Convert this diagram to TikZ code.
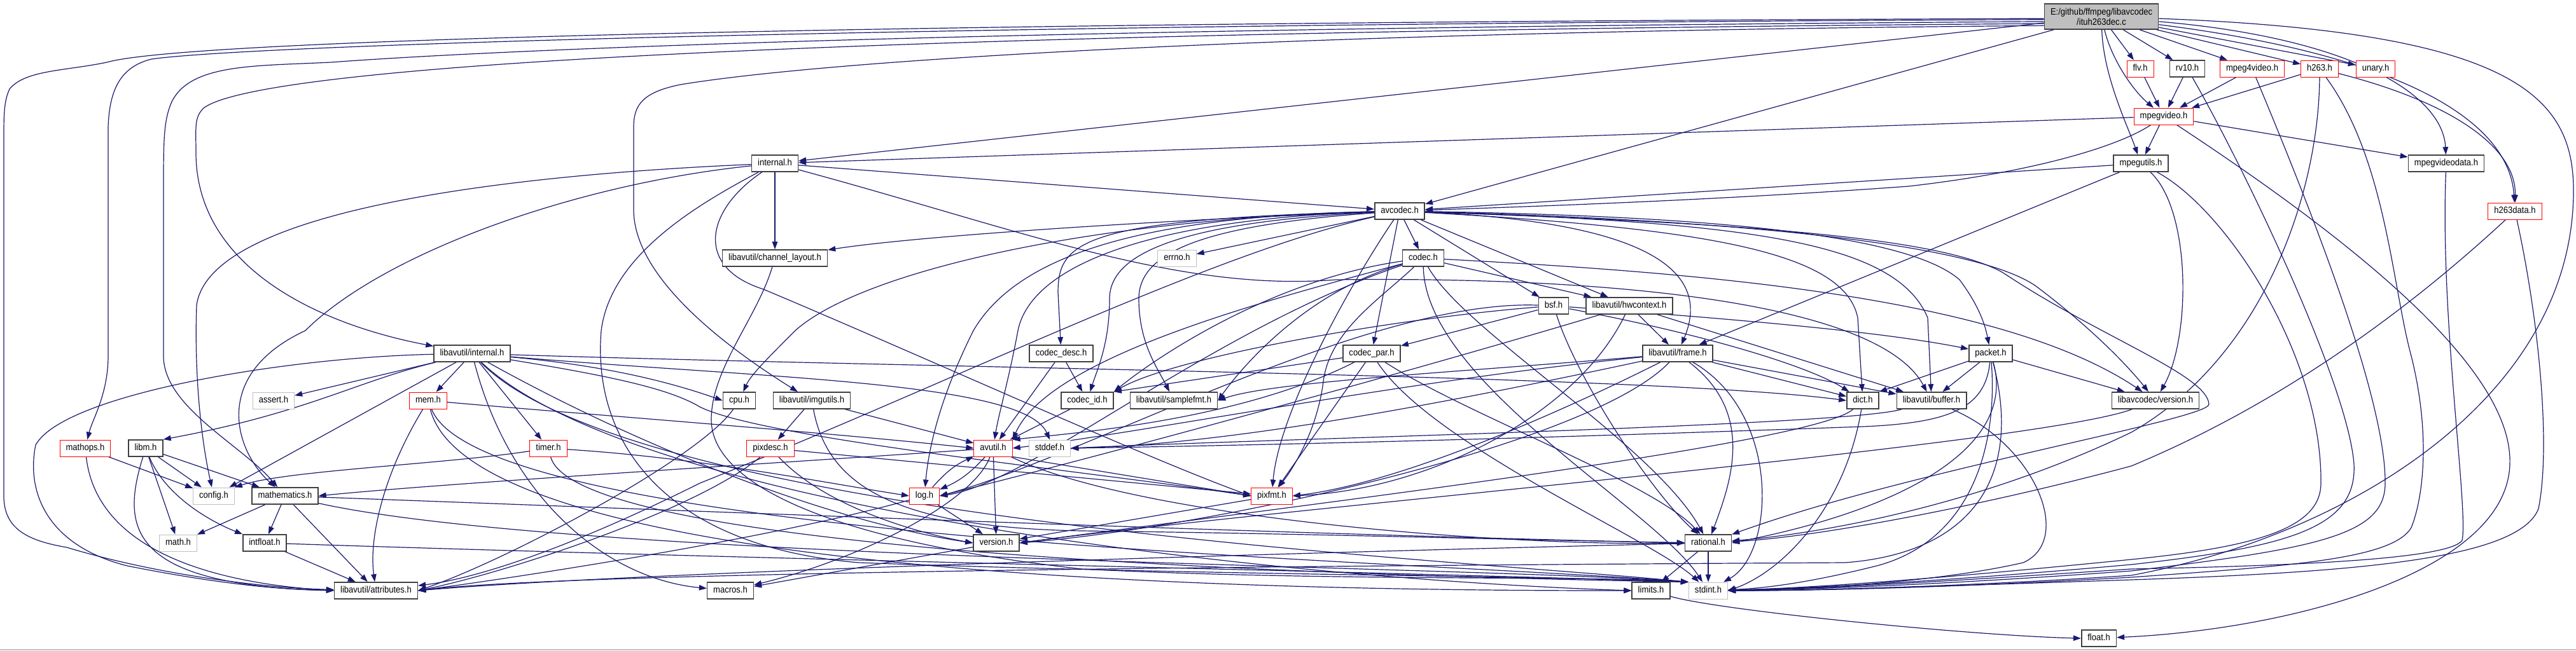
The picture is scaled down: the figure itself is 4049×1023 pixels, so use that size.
\documentclass[tikz,border=0pt]{standalone}
\usepackage{fontspec}
\setmainfont{Liberation Sans}
\newfontfamily\nodefont[FakeStretch=0.9]{Liberation Sans}
\usetikzlibrary{arrows.meta}
\definecolor{edgec}{RGB}{25,25,112}
\definecolor{bord}{RGB}{64,64,64}
\definecolor{lgray}{RGB}{191,191,191}
\pgfdeclarelayer{back}
\pgfdeclarelayer{edges}
\pgfsetlayers{back,edges,main}
\tikzset{
  base/.style={rectangle, font=\nodefont\fontsize{14.5}{16}\selectfont, inner xsep=9.5pt, inner ysep=0pt,
    minimum height=26pt, text height=10.5pt, text depth=3pt, fill=white},
  nb/.style={base, draw=bord, line width=1.6pt},
  nr/.style={base, draw=red, line width=1pt},
  ng/.style={base, draw=lgray, line width=1pt},
  e/.style={draw=edgec, line width=1.2pt, -{Triangle[length=12pt,width=8.5pt]}},
}
\begin{document}
\begin{tikzpicture}[x=1pt,y=-1pt]
\useasboundingbox (0,0) rectangle (4049,1023);
\begin{pgfonlayer}{back}
\fill[white] (0,0) rectangle (4049,1023);
\draw[lgray, line width=1.5pt] (0,1022) -- (4049,1022);
\end{pgfonlayer}

% nodes
\node[nb, fill={rgb,255:red,191;green,191;blue,191}, minimum height=40pt, text height=, text depth=, inner ysep=3pt, align=center] (T) at (3303,26) {E:/github/ffmpeg/libavcodec\\/ituh263dec.c};
\node[nr] (flv) at (3364,108) {flv.h};
\node[nb] (rvten) at (3438,108) {rv10.h};
\node[nr] (mpfv) at (3540,108) {mpeg4video.h};
\node[nr] (hdt) at (3646,108) {h263.h};
\node[nr] (unary) at (3734,108) {unary.h};
\node[nr] (mpv) at (3401,183) {mpegvideo.h};
\node[nb] (lint) at (1218,257) {internal.h};
\node[nb] (mpu) at (3365,257) {mpegutils.h};
\node[nb] (mpvd) at (3845,257) {mpegvideodata.h};
\node[nb] (avc) at (2200,332) {avcodec.h};
\node[nr] (hdd) at (3953,332) {h263data.h};
\node[nb] (chl) at (1218,406) {libavutil/channel\_layout.h};
\node[ng] (errno) at (1850,406) {errno.h};
\node[nb] (codec) at (2237,406) {codec.h};
\node[nb] (bsf) at (2442,481) {bsf.h};
\node[nb] (hwc) at (2561,481) {libavutil/hwcontext.h};
\node[nb] (uint) at (742,556) {libavutil/internal.h};
\node[nb] (cdesc) at (1668,556) {codec\_desc.h};
\node[nb] (cpar) at (2156,556) {codec\_par.h};
\node[nb] (frame) at (2637,556) {libavutil/frame.h};
\node[nb] (packet) at (3129,556) {packet.h};
\node[ng] (assert) at (430,630) {assert.h};
\node[nr] (mem) at (673,630) {mem.h};
\node[nb] (cpu) at (1162,630) {cpu.h};
\node[nb] (imgu) at (1276,630) {libavutil/imgutils.h};
\node[nb] (cid) at (1709,630) {codec\_id.h};
\node[nb] (sfmt) at (1845,630) {libavutil/samplefmt.h};
\node[nb] (dict) at (2928,630) {dict.h};
\node[nb] (buffer) at (3036,630) {libavutil/buffer.h};
\node[nb] (lcver) at (3388,630) {libavcodec/version.h};
\node[nr] (mathops) at (134,705) {mathops.h};
\node[nb] (libm) at (229,705) {libm.h};
\node[nr] (timer) at (862,705) {timer.h};
\node[nr] (pixdesc) at (1211,705) {pixdesc.h};
\node[nr] (avutil) at (1561,705) {avutil.h};
\node[ng] (stddef) at (1650,705) {stddef.h};
\node[ng] (config) at (336,780) {config.h};
\node[nb] (mathem) at (448,780) {mathematics.h};
\node[nr] (log) at (1453,780) {log.h};
\node[nr] (pixfmt) at (1999,780) {pixfmt.h};
\node[ng] (math) at (280,854) {math.h};
\node[nb] (intfloat) at (416,854) {intfloat.h};
\node[nb] (version) at (1566,854) {version.h};
\node[nb] (rational) at (2685,854) {rational.h};
\node[nb] (attr) at (591,929) {libavutil/attributes.h};
\node[nb] (macros) at (1148,929) {macros.h};
\node[nb] (limits) at (2595,929) {limits.h};
\node[ng] (stdint) at (2685,929) {stdint.h};
\node[nb] (float) at (3299,1004) {float.h};

\begin{pgfonlayer}{edges}
% ---- ituh263dec.c
\draw[e] (T) -- (flv);
\draw[e] (T) -- (rvten);
\draw[e] (T) -- (mpfv);
\draw[e] (T) -- (hdt);
\draw[e] (T) -- (unary);
\draw[e] (T) .. controls (3318,90) and (3350,140) .. (mpv);
\draw[e] (T) .. controls (3306,120) and (3345,200) .. (mpu);
\draw[e] (T.355) .. controls (3700,60) and (3840,150) .. (mpvd);
\draw[e] (T.352) .. controls (3800,90) and (3945,200) .. (hdd);
\draw[e] (T.358) .. controls (3950,50) and (4045,150) .. (4045,300) .. controls (4045,620) and (3700,840) .. (3350,905) .. controls (3100,922) and (2850,929) .. (stdint);
\draw[e] (T) -- (avc);
\draw[e] (T) -- (lint);
\draw[e] (T.187) .. controls (1500,50) and (420,95) .. (320,170) .. controls (305,185) and (308,200) .. (308,240) .. controls (308,420) and (500,510) .. (uint);
\draw[e] (T.185) .. controls (1500,45) and (760,80) .. (520,98) .. controls (400,104) and (300,100) .. (270,160) .. controls (257,190) and (257,220) .. (257,300) -- (257,560) .. controls (257,640) and (380,700) .. (mathem);
\draw[e] (T.183) .. controls (1500,38) and (400,70) .. (238,93) .. controls (190,105) and (172,140) .. (170,200) -- (170,560) .. controls (170,620) and (145,660) .. (mathops);
\draw[e] (T.182) .. controls (1500,35) and (300,60) .. (168,98) .. controls (100,112) and (40,110) .. (15,140) .. controls (6,160) and (6,180) .. (6,220) -- (6,780) .. controls (6,830) and (40,850) .. (105,861) .. controls (250,905) and (420,925) .. (attr);
\draw[e] (T.189) .. controls (2000,50) and (1300,95) .. (1070,133) .. controls (1010,145) and (996,165) .. (996,200) -- (996,330) .. controls (996,420) and (1100,520) .. (imgu);
% ---- mpegvideo.h
\draw[e] (mpv) -- (lint);
\draw[e] (mpv) .. controls (3330,230) and (3200,270) .. (3000,293) .. controls (2700,315) and (2400,325) .. (avc);
\draw[e] (mpv) -- (mpu);
\draw[e] (mpv) -- (mpvd);
\draw[e] (mpv) .. controls (3700,380) and (3950,580) .. (3945,730) .. controls (3940,900) and (3600,990) .. (float);
% ---- row 1
\draw[e] (flv) -- (mpv);
\draw[e] (rvten) -- (mpv);
\draw[e] (mpfv) -- (mpv);
\draw[e] (hdt) -- (mpv);
\draw[e] (hdt) .. controls (3850,160) and (3955,230) .. (hdd);
\draw[e] (rvten) .. controls (3520,250) and (3690,600) .. (3700,730) .. controls (3705,830) and (3600,860) .. (3350,888) .. controls (3050,915) and (2850,925) .. (stdint);
\draw[e] (mpfv) .. controls (3620,300) and (3750,620) .. (3749,760) .. controls (3749,840) and (3650,862) .. (3350,898) .. controls (3050,920) and (2850,927) .. (stdint);
\draw[e] (hdt) .. controls (3645,300) and (3560,560) .. (3350,680) .. controls (3100,800) and (2850,840) .. (rational);
\draw[e] (hdt) .. controls (3750,250) and (3760,450) .. (3790,560) .. controls (3820,680) and (3810,780) .. (3790,830) .. controls (3760,880) and (3600,890) .. (3350,908) .. controls (3050,925) and (2850,929) .. (stdint);
\draw[e] (hdd) .. controls (3750,520) and (3550,650) .. (3350,733) .. controls (3100,800) and (2850,845) .. (rational);
\draw[e] (hdd) .. controls (3990,500) and (4010,700) .. (3990,800) .. controls (3960,880) and (3700,900) .. (3350,912) .. controls (3050,922) and (2850,929) .. (stdint);
% ---- mpegutils / mpegvideodata
\draw[e] (mpu) -- (avc);
\draw[e] (mpu) -- (frame);
\draw[e] (mpu) .. controls (3444,330) and (3444,530) .. (lcver);
\draw[e] (mpu) .. controls (3500,330) and (3650,560) .. (3648,760) .. controls (3648,830) and (3550,860) .. (3350,880) .. controls (3050,910) and (2850,925) .. (stdint);
\draw[e] (mpvd) .. controls (3835,500) and (3880,800) .. (3870,850) .. controls (3850,880) and (3600,890) .. (3350,895) .. controls (3050,915) and (2850,927) .. (stdint);
% ---- avcodec.h
\draw[e] (avc) -- (codec);
\draw[e] (avc) -- (bsf);
\draw[e] (avc) -- (hwc);
\draw[e] (avc) -- (errno);
\draw[e] (avc) .. controls (1850,345) and (1450,370) .. (chl);
\draw[e] (avc) .. controls (1700,345) and (1350,430) .. (1250,520) .. controls (1205,565) and (1180,590) .. (cpu);
\draw[e] (avc) .. controls (1700,345) and (1663,380) .. (1663,460) -- (cdesc);
\draw[e] (avc) .. controls (1850,350) and (1744,400) .. (1744,470) .. controls (1744,540) and (1725,580) .. (cid);
\draw[e] (avc) .. controls (1880,355) and (1790,400) .. (1790,470) .. controls (1790,540) and (1820,580) .. (sfmt);
\draw[e] (avc) .. controls (1800,345) and (1620,420) .. (1600,520) .. controls (1585,600) and (1570,650) .. (avutil);
\draw[e] (avc) .. controls (1800,340) and (1600,400) .. (1530,520) .. controls (1480,620) and (1460,700) .. (log);
\draw[e] (avc) .. controls (1900,400) and (1500,600) .. (1100,760) .. controls (900,860) and (750,910) .. (attr);
\draw[e] (avc) .. controls (2120,450) and (2010,650) .. (pixfmt);
\draw[e] (avc) -- (cpar);
\draw[e] (avc) .. controls (2700,350) and (3050,370) .. (3150,430) .. controls (3300,530) and (3470,590) .. (3472,636) .. controls (3470,660) and (3000,740) .. (rational);
\draw[e] (avc) .. controls (2700,345) and (3100,380) .. (3200,450) .. controls (3280,510) and (3340,570) .. (lcver);
\draw[e] (avc) .. controls (2700,340) and (3000,370) .. (3080,440) .. controls (3110,480) and (3120,510) .. (packet);
\draw[e] (avc) .. controls (2750,350) and (2980,380) .. (3030,500) -- (buffer);
\draw[e] (avc) .. controls (2700,360) and (2900,400) .. (2920,500) -- (dict);
\draw[e] (avc) .. controls (2600,350) and (2690,430) .. (frame);
% ---- codec.h
\draw[e] (codec) -- (hwc);
\draw[e] (codec) .. controls (2000,440) and (1820,560) .. (cid.north east);
\draw[e] (codec) .. controls (2050,460) and (1950,580) .. (sfmt.east);
\draw[e] (codec) .. controls (2000,470) and (1650,560) .. (avutil.north east);
\draw[e] (codec) .. controls (1900,520) and (1620,760) .. (log.east);
\draw[e] (codec) .. controls (2170,470) and (2090,520) .. (2080,600) .. controls (2070,680) and (2030,740) .. (pixfmt);
\draw[e] (codec) .. controls (2300,520) and (2600,700) .. (rational);
\draw[e] (codec) .. controls (2240,600) and (2600,800) .. (stdint);
\draw[e] (codec) .. controls (2700,430) and (3150,470) .. (lcver);
% ---- bsf.h
\draw[e] (bsf) -- (cpar);
\draw[e] (bsf) .. controls (2700,500) and (2950,520) .. (packet);
\draw[e] (bsf) .. controls (2700,530) and (2850,580) .. (dict);
\draw[e] (bsf) .. controls (2200,500) and (1850,560) .. (cid.north east);
\draw[e] (bsf) .. controls (2150,470) and (1700,720) .. (log.east);
\draw[e] (bsf) .. controls (2480,600) and (2600,780) .. (rational);
% ---- hwcontext.h
\draw[e] (hwc) -- (frame);
\draw[e] (hwc) -- (buffer);
\draw[e] (hwc) .. controls (2300,560) and (1800,700) .. (log.east);
\draw[e] (hwc) .. controls (2480,650) and (2250,770) .. (pixfmt.east);
% ---- codec_desc / codec_id / codec_par
\draw[e] (cdesc) -- (cid);
\draw[e] (cdesc) -- (avutil);
\draw[e] (cid) -- (avutil);
\draw[e] (cpar) -- (cid.north east);
\draw[e] (cpar) .. controls (1950,660) and (1700,680) .. (avutil.north east);
\draw[e] (cpar) -- (pixfmt);
\draw[e] (cpar) .. controls (2300,650) and (2600,760) .. (rational);
\draw[e] (cpar) .. controls (2250,700) and (2600,850) .. (stdint);
% ---- frame.h
\draw[e] (frame) -- (dict);
\draw[e] (frame) -- (buffer);
\draw[e] (frame) .. controls (2300,585) and (2000,600) .. (sfmt.east);
\draw[e] (frame) .. controls (2200,600) and (1800,680) .. (avutil.east);
\draw[e] (frame) .. controls (2200,650) and (1900,700) .. (stddef.east);
\draw[e] (frame) .. controls (2450,650) and (2200,760) .. (pixfmt.east);
\draw[e] (frame) .. controls (2500,700) and (1900,830) .. (version.east);
\draw[e] (frame) .. controls (2760,650) and (2720,760) .. (rational);
\draw[e] (frame) .. controls (2800,650) and (2790,870) .. (stdint);
% ---- dict / buffer / packet / lavc version
\draw[e] (dict) .. controls (2850,700) and (2000,800) .. (version.east);
\draw[e] (dict) .. controls (2900,800) and (2800,900) .. (stdint.east);
\draw[e] (buffer) .. controls (3200,700) and (3260,850) .. (3180,885) .. controls (3050,915) and (2850,927) .. (stdint);
\draw[e] (buffer) .. controls (2900,670) and (2000,690) .. (stddef.east);
\draw[e] (packet) -- (buffer);
\draw[e] (packet) -- (dict.north east);
\draw[e] (packet) -- (lcver);
\draw[e] (packet) .. controls (3140,700) and (3100,850) .. (2950,890) .. controls (2850,915) and (2780,925) .. (stdint);
\draw[e] (packet) .. controls (3170,700) and (3000,800) .. (rational.east);
\draw[e] (packet) .. controls (3180,750) and (3100,870) .. (2900,885) .. controls (2000,890) and (900,900) .. (attr.east);
\draw[e] (packet) .. controls (3120,650) and (3050,668) .. (2900,672) .. controls (2400,690) and (2000,700) .. (stddef.east);
\draw[e] (lcver) .. controls (3200,700) and (2000,800) .. (version.east);
% ---- libavcodec/internal.h
\draw[e] (lint) -- (chl);
\draw[e] (lint) -- (avc);
\draw[e] (lint) .. controls (800,275) and (330,330) .. (309,480) .. controls (305,600) and (318,700) .. (config);
\draw[e] (lint) .. controls (900,290) and (600,400) .. (480,520) .. controls (330,590) and (370,710) .. (mathem);
\draw[e] (lint) .. controls (1110,330) and (1090,420) .. (1200,455) .. controls (1450,560) and (1800,720) .. (pixfmt.west);
\draw[e] (lint) .. controls (1600,360) and (1850,460) .. (2100,440) .. controls (2500,435) and (2950,470) .. (buffer);
\draw[e] (lint) .. controls (1100,320) and (960,400) .. (945,520) .. controls (930,700) and (1050,860) .. (1350,885) .. controls (1900,905) and (2400,905) .. (stdint.north west);
% ---- libavutil/internal.h
\draw[e] (uint) .. controls (450,562) and (100,620) .. (56,700) .. controls (40,780) and (80,860) .. (200,890) .. controls (350,920) and (450,928) .. (attr);
\draw[e] (uint) -- (assert);
\draw[e] (uint) .. controls (560,600) and (480,650) .. (libm.north east);
\draw[e] (uint) -- (config);
\draw[e] (uint) -- (mem);
\draw[e] (uint) .. controls (800,780) and (950,910) .. (macros);
\draw[e] (uint) -- (timer);
\draw[e] (uint) .. controls (950,575) and (1050,600) .. (cpu.west);
\draw[e] (uint) .. controls (1500,580) and (2600,590) .. (dict.west);
\draw[e] (uint) .. controls (950,590) and (1050,610) .. (1100,640) .. controls (1200,690) and (1700,740) .. (pixfmt.west);
\draw[e] (uint) .. controls (1200,595) and (1610,600) .. (stddef.north);
\draw[e] (uint) .. controls (1000,700) and (1300,820) .. (version.west);
\draw[e] (uint) .. controls (1000,800) and (2000,910) .. (limits.west);
\draw[e] (uint) .. controls (1000,820) and (2300,880) .. (stdint.north west);
% ---- mem / cpu / imgutils / pixdesc
\draw[e] (mem) .. controls (900,650) and (1300,680) .. (avutil.west);
\draw[e] (mem) .. controls (600,750) and (580,850) .. (attr);
\draw[e] (mem) .. controls (720,820) and (1300,930) .. (limits.west);
\draw[e] (mem) .. controls (760,850) and (2200,880) .. (stdint.north west);
\draw[e] (cpu) .. controls (1100,720) and (800,880) .. (attr.east);
\draw[e] (imgu) -- (pixdesc);
\draw[e] (imgu) -- (avutil);
\draw[e] (imgu) .. controls (1300,760) and (1400,830) .. (1700,835) .. controls (2100,840) and (2400,850) .. (rational);
\draw[e] (pixdesc) .. controls (1100,800) and (800,900) .. (attr.east);
\draw[e] (pixdesc) -- (pixfmt);
\draw[e] (pixdesc) .. controls (1300,800) and (1450,840) .. (version.west);
% ---- avutil / log / pixfmt / version
\draw[e] (avutil) .. controls (1200,730) and (700,760) .. (mathem.east);
\draw[e] (avutil) to[bend left=12] (log);
\draw[e] (log) to[bend left=12] (avutil);
\draw[e] (avutil) -- (version);
\draw[e] (avutil) .. controls (1530,790) and (1350,880) .. (macros);
\draw[e] (avutil.south east) -- (pixfmt.west);
\draw[e] (avutil) .. controls (1800,820) and (2400,860) .. (rational.west);
\draw[e] (log) .. controls (1200,850) and (800,910) .. (attr.east);
\draw[e] (log) -- (version);
\draw[e] (pixfmt) -- (version);
\draw[e] (version) -- (macros);
% ---- rational / mathematics / intfloat
\draw[e] (rational) .. controls (2000,870) and (1000,900) .. (attr.east);
\draw[e] (rational) -- (limits);
\draw[e] (rational) -- (stdint);
\draw[e] (mathem) -- (math);
\draw[e] (mathem) -- (intfloat);
\draw[e] (mathem) -- (attr);
\draw[e] (mathem) .. controls (1000,800) and (2000,840) .. (rational.west);
\draw[e] (mathem) .. controls (900,880) and (2300,890) .. (stdint.north west);
\draw[e] (intfloat) .. controls (1200,880) and (2200,900) .. (stdint.north west);
\draw[e] (intfloat) -- (attr);
% ---- libm / mathops / timer / channel_layout
\draw[e] (libm) -- (math);
\draw[e] (libm) -- (config);
\draw[e] (libm) .. controls (260,780) and (330,820) .. (intfloat);
\draw[e] (libm) -- (mathem);
\draw[e] (libm) .. controls (190,830) and (200,920) .. (attr.west);
\draw[e] (mathops) -- (config);
\draw[e] (mathops) .. controls (150,850) and (300,915) .. (attr.west);
\draw[e] (timer) .. controls (700,730) and (450,740) .. (config.north east);
\draw[e] (timer) .. controls (1100,720) and (1300,760) .. (log.west);
\draw[e] (timer) .. controls (900,850) and (1800,900) .. (stdint.north west);
\draw[e] (chl) .. controls (1190,500) and (1118,580) .. (1118,660) .. controls (1118,760) and (1300,850) .. (1700,895) .. controls (2100,915) and (2500,905) .. (stdint.north west);
\draw[e] (limits) .. controls (2700,960) and (3100,1000) .. (float.west);
\end{pgfonlayer}
\end{tikzpicture}
\end{document}
